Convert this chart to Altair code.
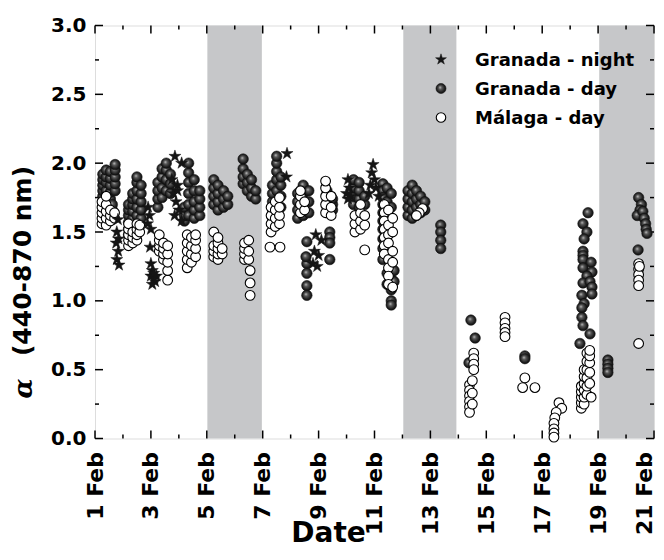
import altair as alt
import pandas as pd

W, H = 559, 413

# ---------------- data ----------------
# Granada - day (filled spheres)
gd_day = (
    [1.28]*7 + [1.40]*6 + [1.55]*5 + [1.72]*5 + [1.62]*2 +
    [2.20]*6 + [2.35]*7 + [2.50]*7 + [2.65]*5 +
    [3.25]*4 + [3.40]*4 + [3.55]*4 + [3.70]*3 +
    [4.20]*3 + [4.35]*6 + [4.55]*5 + [4.75]*4 +
    [5.25]*4 + [5.40]*4 + [5.60]*3 + [5.75]*2 +
    [6.30]*4 + [6.45]*3 + [6.60]*3 + [6.75]*2 +
    [7.35]*5 + [7.50]*5 + [7.65]*4 +
    [8.25]*4 + [8.45]*4 + [8.65]*3 +
    [8.58]*5 + [8.55] + [9.40]*4 +
    [9.30]*4 + [9.50]*3 +
    [10.25]*4 + [10.45]*4 + [10.65]*2 +
    [11.30]*10 + [11.45]*6 + [11.60]*6 + [11.70]*2 +
    [12.20]*4 + [12.35]*5 + [12.50]*4 + [12.65]*3 + [12.80]*2 +
    [13.37]*4 +
    [14.45, 14.60, 14.38] + [16.38]*2 +
    [18.64, 18.46, 18.60, 18.50, 18.46, 18.46, 18.46, 18.75, 18.46, 18.78, 18.60,
     18.46, 18.71, 18.78, 18.42, 18.78, 18.50, 18.42, 18.42, 18.46, 18.71, 18.35] +
    [19.35]*4 +
    [20.45, 20.55, 20.50, 20.40, 20.60, 20.65, 20.70, 20.72, 20.75, 20.43]
)
gd_alpha = (
    [1.68, 1.72, 1.76, 1.80, 1.84, 1.88, 1.92] + [1.70, 1.75, 1.80, 1.86, 1.90, 1.95] +
    [1.74, 1.79, 1.84, 1.89, 1.94] + [1.80, 1.85, 1.90, 1.95, 1.99] + [1.66, 1.70] +
    [1.48, 1.52, 1.57, 1.62, 1.66, 1.70] + [1.50, 1.55, 1.60, 1.65, 1.70, 1.74, 1.78] +
    [1.55, 1.62, 1.68, 1.74, 1.80, 1.86, 1.90] + [1.60, 1.66, 1.72, 1.78, 1.84] +
    [1.68, 1.74, 1.80, 1.86] + [1.75, 1.82, 1.90, 1.96] + [1.80, 1.88, 1.95, 2.00] + [1.78, 1.85, 1.92] +
    [1.58, 1.62, 1.68] + [1.62, 1.70, 1.78, 1.86, 1.93, 2.00] + [1.60, 1.66, 1.72, 1.80, 1.88] +
    [1.62, 1.68, 1.74, 1.80] +
    [1.70, 1.76, 1.82, 1.88] + [1.66, 1.72, 1.78, 1.84] + [1.68, 1.74, 1.80] + [1.70, 1.76] +
    [1.85, 1.90, 1.96, 2.03] + [1.80, 1.86, 1.92] + [1.76, 1.82, 1.88] + [1.74, 1.80] +
    [1.60, 1.66, 1.72, 1.78, 1.84] + [1.80, 1.88, 1.94, 2.00, 2.05] + [1.68, 1.76, 1.84, 1.90] +
    [1.60, 1.66, 1.72, 1.78] + [1.62, 1.70, 1.78, 1.84] + [1.64, 1.72, 1.80] +
    [1.43, 1.27, 1.20, 1.11, 1.04] + [1.32] + [1.50, 1.46, 1.42, 1.30] +
    [1.68, 1.72, 1.76, 1.80] + [1.66, 1.70, 1.74] +
    [1.70, 1.76, 1.82, 1.88] + [1.68, 1.74, 1.80, 1.86] + [1.70, 1.76] +
    [1.85, 1.80, 1.75, 1.70, 1.64, 1.58, 1.52, 1.45, 1.38, 1.30] +
    [1.82, 1.72, 1.62, 1.55, 1.20, 1.12] + [1.78, 1.68, 1.16, 1.08, 1.00, 0.97] + [1.22, 1.14] +
    [1.62, 1.68, 1.74, 1.80] + [1.60, 1.66, 1.72, 1.78, 1.84] + [1.62, 1.68, 1.74, 1.80] +
    [1.64, 1.70, 1.76] + [1.66, 1.72] +
    [1.55, 1.50, 1.44, 1.38] +
    [0.86, 0.73, 0.55] + [0.60, 0.58] +
    [1.64, 1.56, 1.50, 1.45, 1.36, 1.33, 1.30, 1.28, 1.24, 1.21, 1.18,
     1.13, 1.14, 1.10, 1.04, 1.05, 0.98, 0.95, 0.88, 0.82, 0.76, 0.69] +
    [0.57, 0.54, 0.51, 0.48] +
    [1.75, 1.70, 1.66, 1.62, 1.65, 1.60, 1.56, 1.52, 1.49, 1.37]
)

# Malaga - day (open circles)
ma_day = (
    [1.25]*5 + [1.40]*5 + [1.55]*3 + [1.70]*2 +
    [2.20]*5 + [2.35]*3 + [2.50]*4 + [2.60]*2 +
    [3.30]*4 + [3.45]*4 + [3.60]*5 +
    [4.30]*5 + [4.45]*4 + [4.60]*4 +
    [5.25]*4 + [5.40]*5 + [5.55]*2 +
    [6.35]*4 + [6.50]*3 + [6.55]*3 +
    [7.30]*4 + [7.45]*4 + [7.60]*4 + [7.26, 7.62] +
    [8.35]*4 + [8.50]*2 +
    [9.25]*5 + [9.45]*3 +
    [10.30]*3 + [10.50]*4 + [10.65]*3 +
    [11.35]*7 + [11.50]*8 + [11.65]*5 +
    [12.72, 12.60, 12.50] +
    [14.55]*4 + [14.40]*6 + [14.50]*3 +
    [15.67]*5 +
    [16.38, 16.74, 16.30] +
    [17.60, 17.70, 17.50, 17.45, 17.42, 17.42, 17.42, 17.42] +
    [18.40]*5 + [18.50]*6 + [18.60]*6 + [18.70]*5 + [18.75] +
    [20.45]*5 + [20.48, 20.45]
)
ma_alpha = (
    [1.56, 1.60, 1.64, 1.68, 1.72] + [1.55, 1.60, 1.65, 1.70, 1.76] + [1.58, 1.62, 1.66] + [1.60, 1.64] +
    [1.40, 1.44, 1.48, 1.52, 1.56] + [1.42, 1.46, 1.50] + [1.44, 1.48, 1.52, 1.56] + [1.50, 1.55] +
    [1.36, 1.40, 1.44, 1.48] + [1.30, 1.34, 1.38, 1.42] + [1.15, 1.22, 1.28, 1.34, 1.40] +
    [1.24, 1.30, 1.36, 1.42, 1.48] + [1.28, 1.34, 1.40, 1.46] + [1.32, 1.38, 1.44, 1.48] +
    [1.32, 1.36, 1.40, 1.50] + [1.30, 1.34, 1.38, 1.42, 1.46] + [1.34, 1.38] +
    [1.30, 1.34, 1.38, 1.42] + [1.30, 1.36, 1.44] + [1.22, 1.13, 1.04] +
    [1.50, 1.56, 1.62, 1.68] + [1.54, 1.60, 1.66, 1.72] + [1.56, 1.62, 1.68, 1.75] + [1.39, 1.39] +
    [1.64, 1.70, 1.76, 1.80] + [1.66, 1.72] +
    [1.64, 1.70, 1.76, 1.82, 1.87] + [1.62, 1.68, 1.76] +
    [1.50, 1.56, 1.62] + [1.52, 1.58, 1.64, 1.70] + [1.55, 1.62, 1.37] +
    [1.70, 1.64, 1.58, 1.52, 1.46, 1.40, 1.34] +
    [1.66, 1.55, 1.48, 1.42, 1.30, 1.24, 1.18, 1.12] +
    [1.60, 1.50, 1.36, 1.28, 1.10] +
    [1.67, 1.64, 1.62] +
    [0.62, 0.58, 0.54, 0.50] + [0.39, 0.35, 0.31, 0.27, 0.23, 0.19] + [0.42, 0.33, 0.25] +
    [0.88, 0.84, 0.80, 0.77, 0.74] +
    [0.44, 0.37, 0.37] +
    [0.26, 0.22, 0.19, 0.15, 0.11, 0.07, 0.04, 0.01] +
    [0.22, 0.26, 0.30, 0.34, 0.38] + [0.25, 0.30, 0.35, 0.40, 0.45, 0.50] +
    [0.32, 0.38, 0.44, 0.50, 0.56, 0.62] + [0.40, 0.48, 0.55, 0.60, 0.64] + [0.30] +
    [1.27, 1.23, 1.19, 1.15, 1.11] + [1.25, 0.69]
)

# Granada - night (stars)
gn_day = [1.82, 1.78, 1.84, 1.76, 1.83, 1.78, 1.86,
          2.90, 2.95, 2.88, 3.00, 2.97,
          3.00, 3.05, 3.00, 3.10, 3.15, 3.05, 3.20, 3.10,
          3.86, 4.10,
          3.75, 3.95, 3.80, 3.90, 4.00, 3.85, 4.10, 3.95,
          7.87, 7.85,
          8.90, 9.10, 8.85, 9.00, 8.80, 8.95,
          10.05, 10.10, 10.00, 10.15, 10.05,
          10.95, 10.90, 11.00, 10.85, 11.05, 10.80, 11.15]
gn_alpha = [1.59, 1.50, 1.45, 1.42, 1.36, 1.30, 1.26,
            1.68, 1.62, 1.56, 1.52, 1.39,
            1.27, 1.22, 1.18, 1.16, 1.14, 1.12, 1.18, 1.20,
            2.05, 2.00,
            1.88, 1.84, 1.78, 1.72, 1.66, 1.62, 1.58, 1.80,
            2.07, 1.90,
            1.48, 1.44, 1.36, 1.33, 1.27, 1.25,
            1.88, 1.82, 1.78, 1.76, 1.74,
            1.99, 1.93, 1.88, 1.84, 1.82, 1.78, 1.76]

series_names = ["Granada - night", "Granada - day", "Málaga - day"]

band_start = [5.02, 12.03, 19.04]
band_end = [6.97, 13.93, 21.0]

x_major = [1, 3, 5, 7, 9, 11, 13, 15, 17, 19, 21]
x_minor = [2, 4, 6, 8, 10, 12, 14, 16, 18, 20]
y_major = [0.0, 0.5, 1.0, 1.5, 2.0, 2.5, 3.0]
y_minor = [0.25, 0.75, 1.25, 1.75, 2.25, 2.75]

y_title_symbol = "α"
y_title_rest = "(440-870 nm)"
x_title = "Date"

# ---------------- chart ----------------
FONT = "DejaVu Sans"
STAR = ("M0,-1L0.2245,-0.309L0.951,-0.309L0.363,0.118L0.588,0.809L0,0.382"
        "L-0.588,0.809L-0.363,0.118L-0.951,-0.309L-0.2245,-0.309Z")

x_scale = alt.Scale(domain=[1, 21], nice=False, zero=False)
y_scale = alt.Scale(domain=[0, 3], nice=False, zero=False)

x_axis = alt.Axis(values=x_major, labelExpr="datum.value + ' Feb'", labelAngle=270,
                  labelFont=FONT, labelFontWeight="bold", labelFontSize=22, labelColor="black",
                  labelPadding=13, ticks=False, domain=False, grid=False,
                  labelOffset={"condition": {"test": "datum.value >= 21", "value": -10}, "value": 0},
                  title=x_title, titleFont=FONT, titleFontWeight="bold", titleFontSize=28,
                  titleColor="black", titleX=233, titleY=95, titleBaseline="middle",
                  titleAlign="center")
y_axis = alt.Axis(values=y_major, format=".1f",
                  labelFont=FONT, labelFontWeight="bold", labelFontSize=20, labelColor="black",
                  labelPadding=9, ticks=False, domain=False, grid=False,
                  title=y_title_rest, titleFont=FONT, titleFontWeight="bold", titleFontSize=25,
                  titleColor="black", titleAngle=270, titleX=-73, titleY=235,
                  titleBaseline="middle", titleAlign="center")


def X(field):
    return alt.X(field, type="quantitative", scale=x_scale, axis=x_axis)


def Y(field):
    return alt.Y(field, type="quantitative", scale=y_scale, axis=y_axis)


bands_df = pd.DataFrame({"start": band_start, "end": band_end})
bands = alt.Chart(bands_df).mark_rect(color="#c6c7c9").encode(
    x=X("start"), x2="end", y=alt.value(0), y2=alt.value(H))

xmaj_df = pd.DataFrame({"day": x_major})
xmin_df = pd.DataFrame({"day": x_minor})
ymaj_df = pd.DataFrame({"alpha": y_major})
ymin_df = pd.DataFrame({"alpha": y_minor})

tick_style = dict(color="black", strokeWidth=1.5)
ticks = [
    alt.Chart(xmaj_df).mark_rule(**tick_style).encode(x=X("day"), y=alt.value(H), y2=alt.value(H - 8)),
    alt.Chart(xmaj_df).mark_rule(**tick_style).encode(x=X("day"), y=alt.value(0), y2=alt.value(8)),
    alt.Chart(xmin_df).mark_rule(**tick_style).encode(x=X("day"), y=alt.value(H), y2=alt.value(H - 4)),
    alt.Chart(xmin_df).mark_rule(**tick_style).encode(x=X("day"), y=alt.value(0), y2=alt.value(4)),
    alt.Chart(ymaj_df).mark_rule(**tick_style).encode(y=Y("alpha"), x=alt.value(0), x2=alt.value(8)),
    alt.Chart(ymaj_df).mark_rule(**tick_style).encode(y=Y("alpha"), x=alt.value(W), x2=alt.value(W - 8)),
    alt.Chart(ymin_df).mark_rule(**tick_style).encode(y=Y("alpha"), x=alt.value(0), x2=alt.value(4)),
    alt.Chart(ymin_df).mark_rule(**tick_style).encode(y=Y("alpha"), x=alt.value(W), x2=alt.value(W - 4)),
]

sphere_fill = alt.RadialGradient(
    gradient="radial", x1=0.4, y1=0.38, r1=0.0, x2=0.5, y2=0.5, r2=0.55,
    stops=[alt.GradientStop(offset=0.0, color="#c8c8c8"),
           alt.GradientStop(offset=0.3, color="#5a5a5a"),
           alt.GradientStop(offset=0.75, color="#1c1c1c"),
           alt.GradientStop(offset=1.0, color="#0a0a0a")])

gd_df = pd.DataFrame({"day": gd_day, "alpha": gd_alpha})
ma_df = pd.DataFrame({"day": ma_day, "alpha": ma_alpha})
gn_df = pd.DataFrame({"day": gn_day, "alpha": gn_alpha})

sphere_mark = dict(shape="circle", filled=True, fill=sphere_fill, stroke="#111111",
                   strokeWidth=0.6, size=110, opacity=1)
open_mark = dict(shape="circle", filled=True, fill="white", stroke="black",
                 strokeWidth=1.1, size=95, opacity=1)
star_mark = dict(shape=STAR, filled=True, fill="#151515", stroke="#151515",
                 strokeWidth=0.5, size=160, opacity=1)

gd_layer = alt.Chart(gd_df).mark_point(**sphere_mark).encode(x=X("day"), y=Y("alpha"))
ma_layer = alt.Chart(ma_df).mark_point(**open_mark).encode(x=X("day"), y=Y("alpha"))
gn_layer = alt.Chart(gn_df).mark_point(**star_mark).encode(x=X("day"), y=Y("alpha"))

# italic alpha symbol of the y-axis title
alpha_sym = alt.Chart(pd.DataFrame({"t": [y_title_symbol]})).mark_text(
    font="DejaVu Serif", fontStyle="italic", fontWeight="bold", fontSize=26,
    angle=270, align="center", baseline="middle", color="black").encode(
    text="t:N", x=alt.value(-71), y=alt.value(363))

# legend (inside the plot, top right)
leg_sym_x = 346
leg_txt_x = 380
leg_rows = [34, 63, 92]
leg_marks = [dict(star_mark, size=130), dict(sphere_mark, size=100), dict(open_mark, size=90)]
leg_layers = []
for name, mk, ry in zip(series_names, leg_marks, leg_rows):
    df = pd.DataFrame({"label": [name]})
    leg_layers.append(alt.Chart(df).mark_point(**mk).encode(
        x=alt.value(leg_sym_x), y=alt.value(ry)))
    leg_layers.append(alt.Chart(df).mark_text(
        align="left", baseline="middle", font=FONT, fontWeight="bold",
        fontSize=18, color="black").encode(
        text="label:N", x=alt.value(leg_txt_x), y=alt.value(ry + 1.5)))

chart = alt.layer(bands, *ticks, gd_layer, ma_layer, gn_layer, alpha_sym, *leg_layers).properties(
    width=W, height=H,
    autosize=alt.AutoSizeParams(type="none"),
    padding={"left": 87, "top": 17.5, "right": 2, "bottom": 113},
).configure_view(stroke="black", strokeWidth=1.5).configure(background="white")

chart.save("out.html", embed_options={"renderer": "svg", "actions": False})
